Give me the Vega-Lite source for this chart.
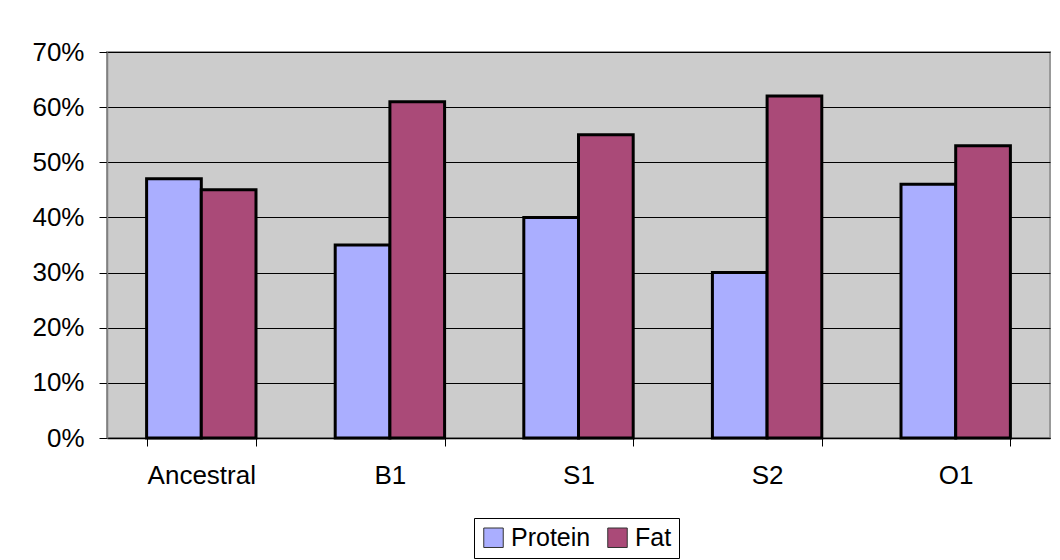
{
  "$schema": "https://vega.github.io/schema/vega-lite/v6.json",
  "autosize": {"type": "none"},
  "width": 943,
  "height": 386,
  "padding": {"left": 107, "top": 52, "right": 10, "bottom": 122},
  "background": "white",
  "data": {
    "values": [
      {"group": "Ancestral", "series": "Protein", "value": 0.47},
      {"group": "Ancestral", "series": "Fat", "value": 0.45},
      {"group": "B1", "series": "Protein", "value": 0.35},
      {"group": "B1", "series": "Fat", "value": 0.61},
      {"group": "S1", "series": "Protein", "value": 0.40},
      {"group": "S1", "series": "Fat", "value": 0.55},
      {"group": "S2", "series": "Protein", "value": 0.30},
      {"group": "S2", "series": "Fat", "value": 0.62},
      {"group": "O1", "series": "Protein", "value": 0.46},
      {"group": "O1", "series": "Fat", "value": 0.53}
    ]
  },
  "mark": {"type": "bar", "stroke": "black", "strokeWidth": 3},
  "encoding": {
    "x": {
      "field": "group",
      "type": "nominal",
      "sort": ["Ancestral", "B1", "S1", "S2", "O1"],
      "scale": {"paddingInner": 0.42, "paddingOuter": 0.21},
      "axis": {
        "title": null,
        "labelAngle": 0,
        "tickBand": "extent",
        "domainColor": "black",
        "domainWidth": 1.5,
        "tickColor": "black",
        "tickSize": 8,
        "labelFont": "Liberation Sans",
        "labelFontSize": 26,
        "labelColor": "black",
        "labelPadding": 16
      }
    },
    "xOffset": {"field": "series", "type": "nominal", "sort": ["Protein", "Fat"]},
    "y": {
      "field": "value",
      "type": "quantitative",
      "scale": {"domain": [0, 0.7], "nice": false},
      "axis": {
        "title": null,
        "format": ".0%",
        "values": [0, 0.1, 0.2, 0.3, 0.4, 0.5, 0.6, 0.7],
        "grid": true,
        "gridColor": "black",
        "gridWidth": 1,
        "domainColor": "#808080",
        "domainWidth": 1.5,
        "tickColor": "black",
        "tickSize": 8,
        "labelFont": "Liberation Sans",
        "labelFontSize": 26,
        "labelColor": "black",
        "labelPadding": 15
      }
    },
    "fill": {
      "field": "series",
      "type": "nominal",
      "scale": {"domain": ["Protein", "Fat"], "range": ["#AAAEFF", "#AA4A78"]},
      "legend": {
        "title": null,
        "orient": "none",
        "legendX": 367,
        "legendY": 466,
        "direction": "horizontal",
        "strokeColor": "black",
        "fillColor": "white",
        "padding": 7,
        "symbolType": "square",
        "symbolSize": 380,
        "symbolStrokeColor": "#333333",
        "symbolStrokeWidth": 1,
        "labelFont": "Liberation Sans",
        "labelFontSize": 25,
        "labelColor": "black",
        "labelOffset": 5,
        "columnPadding": 14
      }
    }
  },
  "config": {"view": {"fill": "#CCCCCC", "stroke": "#999999", "strokeWidth": 2}}
}
